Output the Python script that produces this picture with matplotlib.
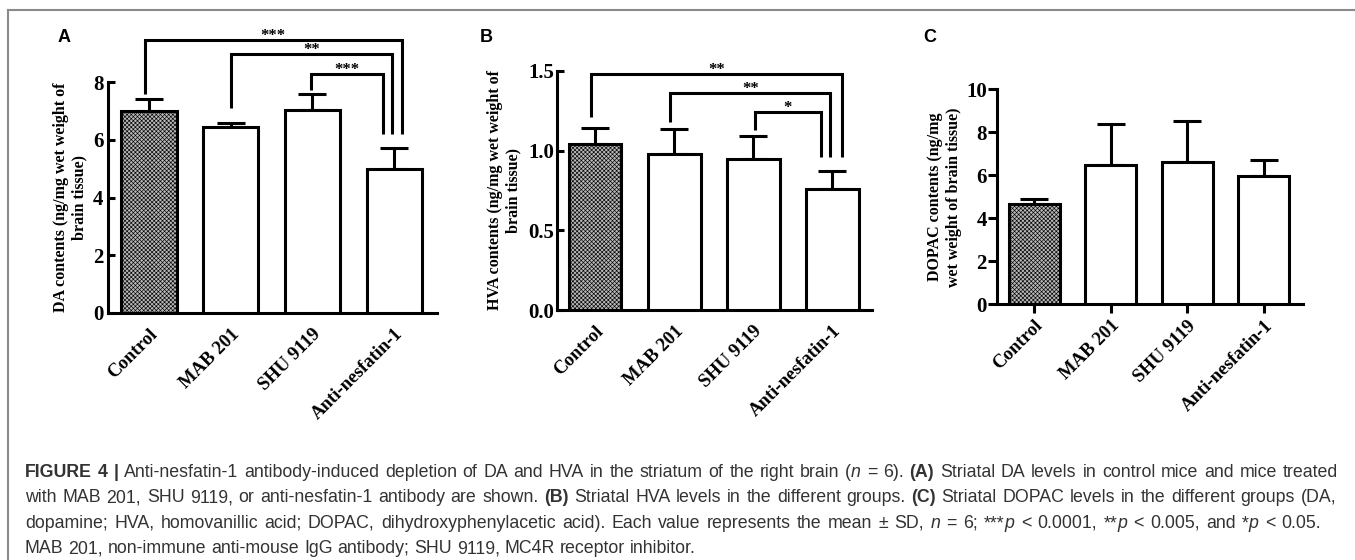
import matplotlib
matplotlib.use("Agg")
import matplotlib.pyplot as plt
from matplotlib.lines import Line2D
from matplotlib.transforms import IdentityTransform
import numpy as np

W, H = 1355, 560

GROUPS = ["Control", "MAB 201", "SHU 9119", "Anti-nesfatin-1"]

DA_MEAN = [7.0, 6.44, 7.02, 5.0]
DA_SD = [0.4, 0.15, 0.57, 0.72]
HVA_MEAN = [1.04, 0.977, 0.946, 0.76]
HVA_SD = [0.105, 0.161, 0.146, 0.113]
DOPAC_MEAN = [4.65, 6.49, 6.6, 5.97]
DOPAC_SD = [0.23, 1.9, 1.93, 0.74]

# significance brackets: (left group, right group), stars, bar height, leg ends
DA_PAIRS = [(0, 3), (1, 3), (2, 3)]
DA_STARS = ["***", "**", "***"]
DA_BR_TOP = [9.45, 8.98, 8.29]
DA_BR_LEFT = [7.57, 7.09, 7.72]
DA_BR_RIGHT = [6.2, 6.2, 6.2]
DA_DX = [(-0.05, 0.09), (0.01, -0.03), (-0.02, -0.14)]

HVA_PAIRS = [(0, 3), (1, 3), (2, 3)]
HVA_STARS = ["**", "**", "*"]
HVA_BR_TOP = [1.48, 1.36, 1.24]
HVA_BR_LEFT = [1.21, 1.18, 1.13]
HVA_BR_RIGHT = [0.96, 0.96, 0.96]
HVA_DX = [(-0.06, 0.12), (-0.05, -0.03), (0.02, -0.15)]

LW = 2.2
plt.rcParams["font.family"] = ["Liberation Serif", "DejaVu Serif"]
plt.rcParams["hatch.linewidth"] = 0.45


def rect(l, t, r, b):
    return [l / W, 1 - b / H, (r - l) / W, (b - t) / H]


def panel(ax, means, sds, width, xlim, ylim, yticks, ylabel, lab_x, fmt):
    x = np.arange(len(GROUPS))
    bars = ax.bar(x, means, width, color="white", edgecolor="black",
                  linewidth=LW, zorder=3)
    bars[0].set_facecolor("#b8b8b8")
    bars[0].set_hatch("xxxxxxxx")
    ax.errorbar(x, means, yerr=[np.zeros(len(sds)), sds], fmt="none",
                ecolor="black", elinewidth=LW, capsize=10, capthick=LW, zorder=2)
    ax.set_xlim(*xlim)
    ax.set_ylim(*ylim)
    ax.set_yticks(yticks)
    ax.set_yticklabels([fmt.format(v) for v in yticks], fontsize=15, fontweight="bold")
    ax.set_xticks(x)
    ax.set_xticklabels(GROUPS, rotation=45, ha="right", va="top",
                       rotation_mode="anchor", fontsize=13.5, fontweight="bold")
    for s in ("top", "right"):
        ax.spines[s].set_visible(False)
    for s in ("left", "bottom"):
        ax.spines[s].set_linewidth(LW)
    ax.set_ylabel(ylabel, fontsize=11.5, fontweight="bold")
    ax.yaxis.set_label_coords(lab_x, 0.5)
    ax.patch.set_alpha(0)


def brackets(ax, pairs, stars, tops, lefts, rights, dxs):
    for (i, j), st, top, yl, yr, (dl, dr) in zip(pairs, stars, tops, lefts, rights, dxs):
        xl, xr = i + dl, j + dr
        ax.plot([xl, xl, xr, xr], [yl, top, top, yr], color="black", lw=LW,
                solid_joinstyle="miter", solid_capstyle="butt", clip_on=False, zorder=4)
        ax.text((xl + xr) / 2, top, st, ha="center", va="baseline", fontsize=12,
                fontweight="bold", clip_on=False)


fig = plt.figure(figsize=(W / 100, H / 100), dpi=100, facecolor="white")

axA = fig.add_axes(rect(107.7, 82, 437, 313))
panel(axA, DA_MEAN, DA_SD, 0.68, (-0.5, 3.52), (0, 8), [0, 2, 4, 6, 8],
      "DA contents (ng/mg wet weight of\nbrain tissue)", -0.062, "{:.0f}")
axA.tick_params(axis="y", direction="in", length=4.7, width=LW, pad=3)
axA.tick_params(axis="x", length=0, pad=9)
brackets(axA, DA_PAIRS, DA_STARS, DA_BR_TOP, DA_BR_LEFT, DA_BR_RIGHT, DA_DX)

axB = fig.add_axes(rect(556.7, 71, 872, 310))
panel(axB, HVA_MEAN, HVA_SD, 0.66, (-0.49, 3.5), (0, 1.5), [0, 0.5, 1.0, 1.5],
      "HVA contents (ng/mg wet weight of\nbrain tissue)", -0.111, "{:.1f}")
axB.tick_params(axis="y", direction="in", length=4.7, width=LW, pad=2)
axB.tick_params(axis="x", length=0, pad=9)
brackets(axB, HVA_PAIRS, HVA_STARS, HVA_BR_TOP, HVA_BR_LEFT, HVA_BR_RIGHT, HVA_DX)

axC = fig.add_axes(rect(996.7, 89.3, 1302.7, 304.3))
panel(axC, DOPAC_MEAN, DOPAC_SD, 0.67, (-0.49, 3.51), (0, 10), [0, 2, 4, 6, 8, 10],
      "DOPAC contents (ng/mg\nwet weight of brain tissue)", -0.114, "{:.0f}")
axC.tick_params(axis="both", direction="out", length=6.3, width=LW)
axC.tick_params(axis="y", pad=0.8)
axC.tick_params(axis="x", pad=3)

for lab, px in (("A", 58), ("B", 480), ("C", 923)):
    fig.text(px / W, 1 - 38 / H, lab, fontsize=13, fontweight="bold",
             family=["Liberation Sans", "DejaVu Sans"], va="center", ha="left")

# frame lines (top + left)
fig.add_artist(Line2D([8 / W, 1], [1 - 10 / H, 1 - 10 / H], color="#8a8a8a", lw=1.5))
fig.add_artist(Line2D([8 / W, 8 / W], [1 - 10 / H, 0], color="#8a8a8a", lw=1.5))

# caption, drawn word by word so lines can be justified
R = fig.canvas.get_renderer()
CAP = dict(family=["Liberation Sans", "DejaVu Sans"], color="#333333",
           va="baseline", ha="left", transform=IdentityTransform())

N, B, I = "normal", "bold", "italic"
LINE1 = [("FIGURE 4 |", B, N),
         (" Anti-nesfatin-1 antibody-induced depletion of DA and HVA in the striatum of the right brain (", N, N),
         ("n", N, I), (" = 6). ", N, N), ("(A)", B, N),
         (" Striatal DA levels in control mice and mice treated", N, N)]
LINE2 = [("with MAB 201, SHU 9119, or anti-nesfatin-1 antibody are shown. ", N, N),
         ("(B)", B, N), (" Striatal HVA levels in the different groups. ", N, N),
         ("(C)", B, N), (" Striatal DOPAC levels in the different groups (DA,", N, N)]
LINE3 = [("dopamine; HVA, homovanillic acid; DOPAC, dihydroxyphenylacetic acid). Each value represents the mean \u00b1 SD, ", N, N),
         ("n", N, I), (" = 6; ***", N, N), ("p", N, I), (" < 0.0001, **", N, N),
         ("p", N, I), (" < 0.005, and *", N, N), ("p", N, I), (" < 0.05.", N, N)]
LINE4 = [("MAB 201, non-immune anti-mouse IgG antibody; SHU 9119, MC4R receptor inhibitor.", N, N)]


def split_words(runs):
    words = [[]]
    for text, wt, st in runs:
        for k, p in enumerate(text.split(" ")):
            if k > 0:
                words.append([])
            if p:
                words[-1].append((p, wt, st))
    return [w for w in words if w]


def layout(runs, size):
    placed, widths = [], []
    for w in split_words(runs):
        items, tot = [], 0.0
        for p, wt, st in w:
            t = fig.text(0, 0, p, fontweight=wt, fontstyle=st, fontsize=size, **CAP)
            wd = t.get_window_extent(R).width
            items.append((t, wd))
            tot += wd
        placed.append(items)
        widths.append(tot)
    a = fig.text(0, 0, "a a", fontsize=size, **CAP)
    b = fig.text(0, 0, "aa", fontsize=size, **CAP)
    space = a.get_window_extent(R).width - b.get_window_extent(R).width
    a.remove()
    b.remove()
    return placed, widths, space


def caption_line(y_top, runs, size, x0, x1=None):
    placed, widths, space = layout(runs, size)
    gap = space if x1 is None else (x1 - x0 - sum(widths)) / (len(widths) - 1)
    x, y = x0, H - y_top
    for items, tot in zip(placed, widths):
        xx = x
        for t, wd in items:
            t.set_position((xx, y))
            xx += wd
        x += tot + gap


# fit font size so that line 1 fills the text block with normal spacing
placed, widths, space = layout(LINE1, 12.0)
nat = sum(widths) + space * (len(widths) - 1)
for items in placed:
    for t, _ in items:
        t.remove()
CAP_SIZE = 12.0 * (1338 - 25) / nat * 0.985

caption_line(477, LINE1, CAP_SIZE, 25, 1338)
caption_line(502.5, LINE2, CAP_SIZE, 25, 1336)
caption_line(528, LINE3, CAP_SIZE, 25, 1321)
caption_line(553, LINE4, CAP_SIZE, 25)

fig.savefig("out.png", dpi=100, facecolor="white")
